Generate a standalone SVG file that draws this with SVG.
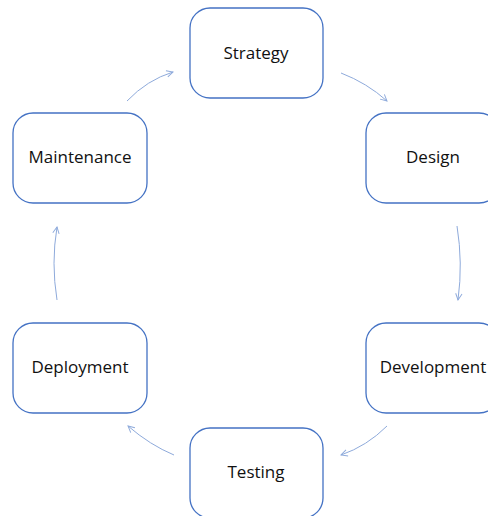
<svg xmlns="http://www.w3.org/2000/svg" width="488" height="516" viewBox="0 0 488 516">
<style>
.node rect{fill:#fff;stroke:#4472c4;stroke-width:1.3}
.node text{font-family:"Open Sans","Liberation Sans",Arial,sans-serif;font-size:17px;fill:#111;text-anchor:middle}
.conn path{fill:none;stroke:#8eaadb;stroke-width:1;marker-end:url(#arr)}
</style>
<defs>
<marker id="arr" viewBox="0 0 10 10" refX="9" refY="5" markerWidth="8" markerHeight="8" markerUnits="userSpaceOnUse" orient="auto">
<path d="M1,1 L9,5 L1,9" fill="none" stroke="#8eaadb" stroke-width="1.2"/>
</marker>
</defs>
<rect width="488" height="516" fill="#fff"/>
<g class="conn">
<path d="M341,73 Q367,83 387,101"/>
<path d="M457,226 Q463,263 458,300"/>
<path d="M387,426 Q367,446 341,455"/>
<path d="M174,455 Q150,445 128,426"/>
<path d="M57,300 Q51,263 57,227"/>
<path d="M127,101 Q147,80 173,72"/>
</g>
<g id="strategy" class="node"><rect x="190" y="8" width="133" height="90" rx="20"/><text x="256" y="59">Strategy</text></g>
<g id="design" class="node"><rect x="366" y="113" width="133" height="90" rx="20"/><text x="433" y="163">Design</text></g>
<g id="development" class="node"><rect x="366" y="323" width="133" height="90" rx="20"/><text x="433" y="373">Development</text></g>
<g id="testing" class="node"><rect x="190" y="428" width="133" height="90" rx="20"/><text x="256" y="478">Testing</text></g>
<g id="deployment" class="node"><rect x="13" y="323" width="134" height="90" rx="20"/><text x="80" y="373">Deployment</text></g>
<g id="maintenance" class="node"><rect x="13" y="113" width="134" height="90" rx="20"/><text x="80" y="163">Maintenance</text></g>
</svg>
